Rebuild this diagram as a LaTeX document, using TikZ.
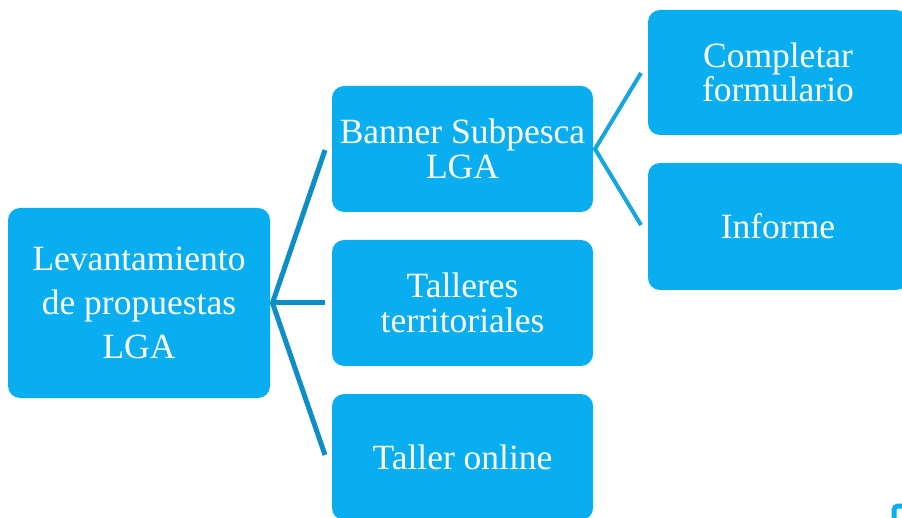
\documentclass[tikz,border=0pt]{standalone}
\usepackage{fontspec}
\setmainfont{Liberation Serif}
\definecolor{boxc}{RGB}{8,174,239}
\definecolor{linel}{RGB}{14,142,198}
\definecolor{liner}{RGB}{22,165,221}
\begin{document}
\begin{tikzpicture}[x=1pt,y=-1pt,
  boxn/.style={fill=boxc, rounded corners=12pt, text=white, align=center, inner sep=0pt},
  bigtxt/.style={font=\fontsize{35.5}{44}\selectfont},
  midtxt/.style={font=\fontsize{35.5}{34.5}\selectfont},
  conl/.style={draw=linel, line width=5pt},
  conr/.style={draw=liner, line width=4pt}]
\useasboundingbox (0,0) rectangle (902,518);
\clip (0,0) rectangle (902,518);
% left box
\node[boxn, bigtxt, minimum width=262pt, minimum height=190pt] (L) at (139,303) {Levantamiento\\de propuestas\\LGA};
% middle boxes
\node[boxn, midtxt, minimum width=261pt, minimum height=126pt] (M1) at (462.5,149) {Banner Subpesca\\LGA};
\node[boxn, midtxt, minimum width=261pt, minimum height=126pt] (M2) at (462.5,303) {Talleres\\territoriales};
\node[boxn, midtxt, minimum width=261pt, minimum height=126pt] (M3) at (462.5,457) {Taller online};
% right boxes
\node[boxn, midtxt, minimum width=260pt, minimum height=125pt] (R1) at (778,72.5) {Completar\\formulario};
\node[boxn, midtxt, minimum width=260pt, minimum height=127pt] (R2) at (778,226.5) {Informe};
% connector ends
\coordinate (la) at (272.5,303);
\coordinate (l1) at (325,150);
\coordinate (l2) at (325,303);
\coordinate (l3) at (325,455);
\coordinate (ra) at (595,149);
\coordinate (r1) at (641,73);
\coordinate (r2) at (641,225);
\draw[conl] (l1) -- (la) -- (l3);
\draw[conl] (la) -- (l2);
\draw[conr] (r1) -- (ra) -- (r2);
% fragment at bottom right corner
\draw[draw=boxc, line width=5pt, rounded corners=4pt] (894,506) rectangle (940,560);
\end{tikzpicture}
\end{document}
